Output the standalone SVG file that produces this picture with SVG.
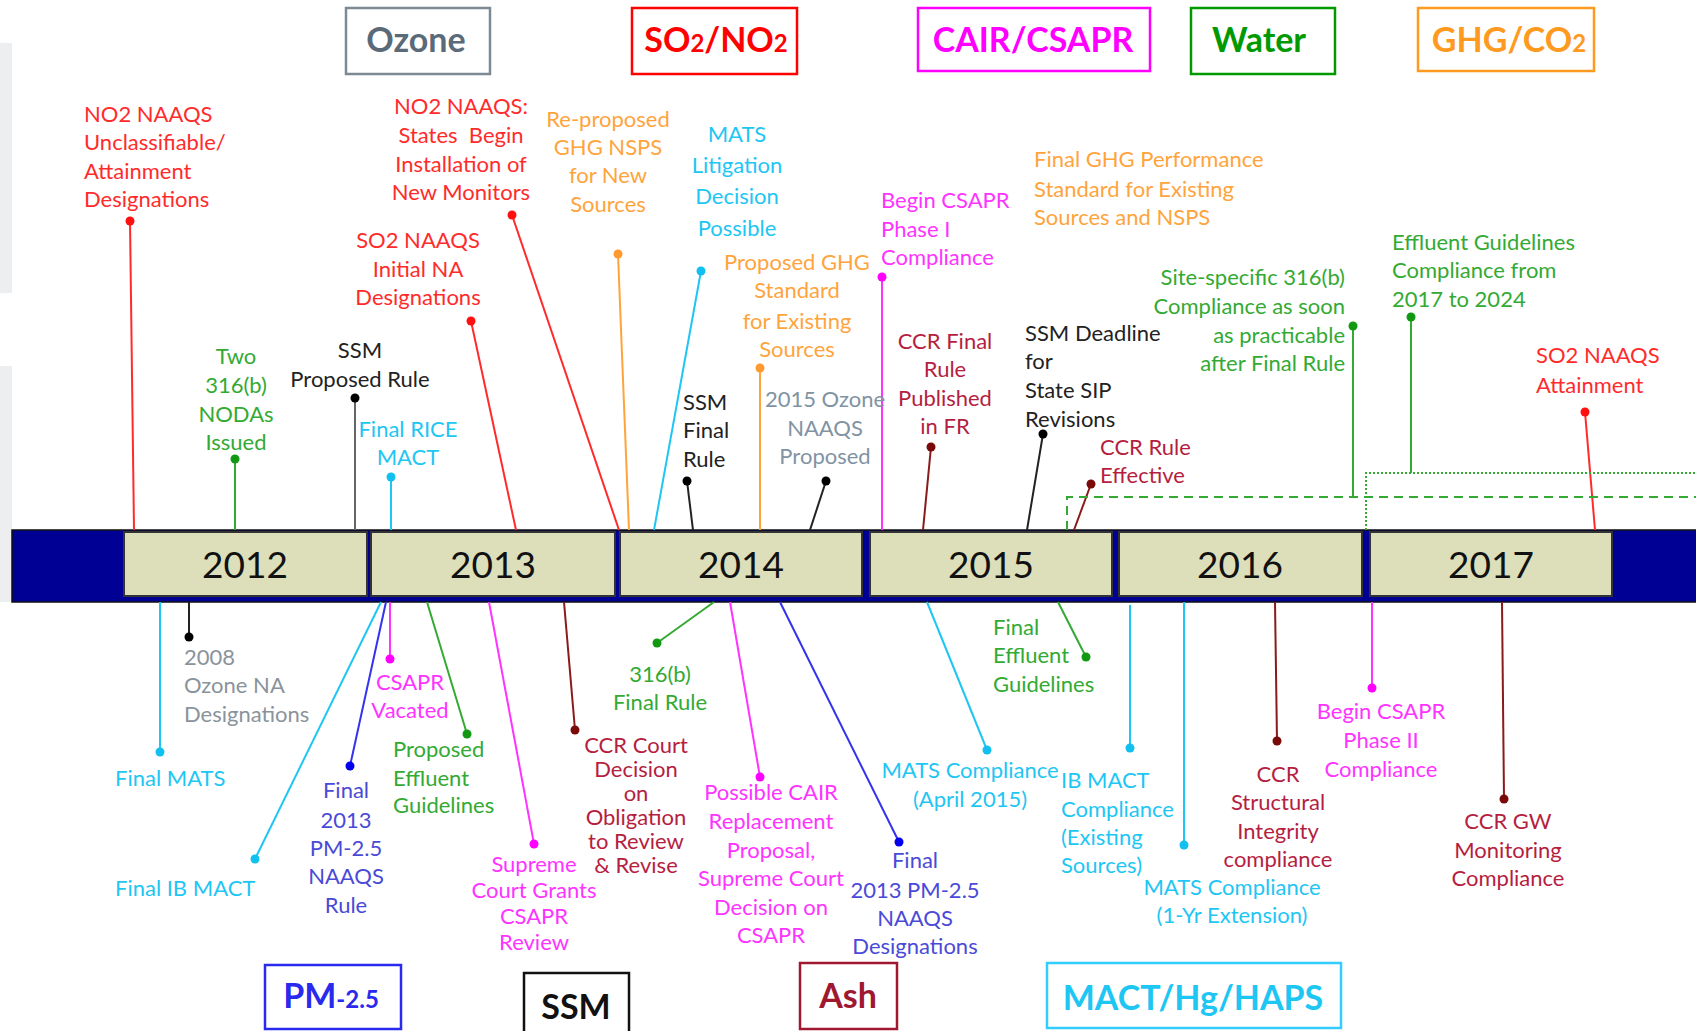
<svg xmlns="http://www.w3.org/2000/svg" width="1696" height="1031" viewBox="0 0 1696 1031">
<style>
.t{font-family:Lato,"Liberation Sans",sans-serif;font-size:22px}
.c{text-anchor:middle}
.r{text-anchor:end}
.red{fill:#ff2b2b}.org{fill:#ffa43c}.cyn{fill:#1ec6f4}.mag{fill:#ff33ff}.grn{fill:#33aa33}
.crm{fill:#b51e3f}.blu{fill:#4a4ad8}.blk{fill:#222}.gry{fill:#8a939b}.slt{fill:#8193a3}
.s{fill:none;stroke-width:2}
.sred{stroke:#ff2b2b}.sorg{stroke:#ffa43c}.scyn{stroke:#1ec6f4}.smag{stroke:#ff33ff}.sgrn{stroke:#33aa33}
.scrm{stroke:#8b1a1a}.sblu{stroke:#3333ee}.sblk{stroke:#222}.sgry{stroke:#666}
.dred{fill:#ff1010}.dorg{fill:#ff9a30}.dcyn{fill:#12c0f0}.dmag{fill:#ff00ff}.dgrn{fill:#119911}
.dcrm{fill:#7a0a0a}.dblu{fill:#0000ee}.dblk{fill:#000}
.yb{fill:#dcdfb9;stroke:#333;stroke-width:2}
.yt{font-family:Lato,"Liberation Sans",sans-serif;font-size:37px;fill:#111;text-anchor:middle}
.lg{fill:#fff;stroke-width:2.5}
.lt{font-family:Lato,"Liberation Sans",sans-serif;font-weight:bold;font-size:34px}
</style>

<rect x="0" y="43" width="12" height="250" fill="#eceef0"/>
<rect x="0" y="366" width="12" height="236" fill="#eceef0"/>

<g id="timeline">
<rect x="12" y="530" width="1684" height="72" fill="#000095" stroke="#111" stroke-width="1.5"/>
<rect class="yb" x="124" y="532" width="243" height="64"/><text class="yt" x="245" y="578">2012</text>
<rect class="yb" x="371" y="532" width="244" height="64"/><text class="yt" x="493" y="578">2013</text>
<rect class="yb" x="620" y="532" width="242" height="64"/><text class="yt" x="741" y="578">2014</text>
<rect class="yb" x="870" y="532" width="242" height="64"/><text class="yt" x="991" y="578">2015</text>
<rect class="yb" x="1119" y="532" width="243" height="64"/><text class="yt" x="1240" y="578">2016</text>
<rect class="yb" x="1370" y="532" width="242" height="64"/><text class="yt" x="1491" y="578">2017</text>
</g>

<g id="legend">
<g id="lg-ozone"><rect class="lg" x="346" y="8" width="144" height="66" stroke="#7d8a94"/><text class="lt" x="416" y="52" text-anchor="middle" fill="#5a6a78">Ozone</text></g>
<g id="lg-so2"><rect class="lg" x="632" y="8" width="165" height="66" stroke="#ff0000"/><text class="lt" x="716" y="52" text-anchor="middle" fill="#ff0000">SO<tspan font-size="24">2</tspan>/NO<tspan font-size="24">2</tspan></text></g>
<g id="lg-cair"><rect class="lg" x="918" y="8" width="232" height="63" stroke="#ff00ff"/><text class="lt" x="1033" y="52" text-anchor="middle" fill="#ff00ff">CAIR/CSAPR</text></g>
<g id="lg-water"><rect class="lg" x="1191" y="8" width="144" height="66" stroke="#009a00"/><text class="lt" x="1259" y="52" text-anchor="middle" fill="#009a00">Water</text></g>
<g id="lg-ghg"><rect class="lg" x="1418" y="8" width="176" height="63" stroke="#ff9a20"/><text class="lt" x="1509" y="52" text-anchor="middle" fill="#ff9a20">GHG/CO<tspan font-size="24">2</tspan></text></g>
<g id="lg-pm"><rect class="lg" x="265" y="965" width="136" height="64" stroke="#2a2aee"/><text class="lt" x="331" y="1008" text-anchor="middle" fill="#2a2aee">PM<tspan font-size="24">-2.5</tspan></text></g>
<g id="lg-ssm"><rect class="lg" x="524" y="973" width="105" height="70" stroke="#111"/><text class="lt" x="576" y="1019" text-anchor="middle" fill="#111">SSM</text></g>
<g id="lg-ash"><rect class="lg" x="800" y="963" width="97" height="66" stroke="#a01830"/><text class="lt" x="848" y="1008" text-anchor="middle" fill="#a01830">Ash</text></g>
<g id="lg-mact"><rect class="lg" x="1047" y="963" width="294" height="65" stroke="#33ccff"/><text class="lt" x="1193" y="1010" text-anchor="middle" fill="#1ec6f4">MACT/Hg/HAPS</text></g>
</g>

<g id="connectors">
<line class="s sred" x1="130" y1="221" x2="134" y2="530"/>
<line class="s sred" x1="512" y1="215" x2="619" y2="530"/>
<line class="s sred" x1="471" y1="321" x2="516" y2="530"/>
<line class="s sorg" x1="618" y1="254" x2="629" y2="530"/>
<line class="s scyn" x1="701" y1="271" x2="654" y2="530"/>
<line class="s sorg" x1="760" y1="368" x2="760" y2="530"/>
<line class="s smag" x1="882" y1="277" x2="882" y2="530"/>
<line class="s sgrn" x1="1411" y1="317" x2="1411" y2="473"/>
<line class="s sgrn" x1="1353" y1="326" x2="1353" y2="497"/>
<line class="s sred" x1="1585" y1="412" x2="1595" y2="530"/>
<line class="s sgrn" x1="235" y1="459" x2="235" y2="530"/>
<line class="s sgry" x1="355" y1="398" x2="355" y2="530"/>
<line class="s scyn" x1="391" y1="477" x2="391" y2="530"/>
<line class="s sblk" x1="687" y1="481" x2="693" y2="530"/>
<line class="s sblk" x1="826" y1="481" x2="810" y2="530"/>
<line class="s scrm" x1="931" y1="447" x2="923" y2="530"/>
<line class="s sblk" x1="1043" y1="434" x2="1027" y2="530"/>
<line class="s scrm" x1="1091" y1="484" x2="1074" y2="530"/>
<path class="s sgrn" stroke-width="2.5" stroke-dasharray="9 6" d="M1067,530 V497 H1696"/>
<path class="s sgrn" stroke-width="1.5" stroke-dasharray="2 2" d="M1366,530 V473 H1696"/>
<line class="s scyn" x1="160" y1="602" x2="160" y2="752"/>
<line class="s sblk" x1="189" y1="602" x2="189" y2="637"/>
<line class="s scyn" x1="381" y1="602" x2="255" y2="859"/>
<line class="s sblu" x1="386" y1="602" x2="350" y2="766"/>
<line class="s smag" x1="390" y1="602" x2="390" y2="659"/>
<line class="s sgrn" x1="427" y1="602" x2="467" y2="734"/>
<line class="s smag" x1="489" y1="602" x2="534" y2="844"/>
<line class="s scrm" x1="564" y1="602" x2="575" y2="730"/>
<line class="s sgrn" x1="714" y1="602" x2="657" y2="643"/>
<line class="s smag" x1="730" y1="602" x2="760" y2="777"/>
<line class="s sblu" x1="780" y1="602" x2="899" y2="842"/>
<line class="s scyn" x1="927" y1="602" x2="987" y2="750"/>
<line class="s sgrn" x1="1058" y1="602" x2="1086" y2="657"/>
<line class="s scyn" x1="1130" y1="605" x2="1130" y2="748"/>
<line class="s scyn" x1="1184" y1="602" x2="1184" y2="845"/>
<line class="s scrm" x1="1275" y1="602" x2="1277" y2="741"/>
<line class="s smag" x1="1372" y1="602" x2="1372" y2="688"/>
<line class="s scrm" x1="1502" y1="602" x2="1504" y2="799"/>
</g>

<g id="n-no2-unclass"><circle class="dred" cx="130" cy="221" r="4.5"/><text class="t red"><tspan x="84" y="122">NO2 NAAQS</tspan><tspan x="84" y="150">Unclassifiable/</tspan><tspan x="84" y="179">Attainment</tspan><tspan x="84" y="207">Designations</tspan></text></g>
<g id="n-no2-monitors"><circle class="dred" cx="512" cy="215" r="4.5"/><text class="t c red" xml:space="preserve"><tspan x="461" y="114">NO2 NAAQS:</tspan><tspan x="461" y="143">States  Begin</tspan><tspan x="461" y="172">Installation of</tspan><tspan x="461" y="200">New Monitors</tspan></text></g>
<g id="n-so2-initial"><circle class="dred" cx="471" cy="321" r="4.5"/><text class="t c red"><tspan x="418" y="248">SO2 NAAQS</tspan><tspan x="418" y="277">Initial NA</tspan><tspan x="418" y="305">Designations</tspan></text></g>
<g id="n-reproposed"><circle class="dorg" cx="618" cy="254" r="4.5"/><text class="t c org"><tspan x="608" y="127">Re-proposed</tspan><tspan x="608" y="155">GHG NSPS</tspan><tspan x="608" y="183">for New</tspan><tspan x="608" y="212">Sources</tspan></text></g>
<g id="n-mats-litigation"><circle class="dcyn" cx="701" cy="271" r="4.5"/><text class="t c cyn"><tspan x="737" y="142">MATS</tspan><tspan x="737" y="173">Litigation</tspan><tspan x="737" y="204">Decision</tspan><tspan x="737" y="236">Possible</tspan></text></g>
<g id="n-proposed-ghg"><circle class="dorg" cx="760" cy="368" r="4.5"/><text class="t c org"><tspan x="797" y="270">Proposed GHG</tspan><tspan x="797" y="298">Standard</tspan><tspan x="797" y="329">for Existing</tspan><tspan x="797" y="357">Sources</tspan></text></g>
<g id="n-begin-csapr1"><circle class="dmag" cx="882" cy="277" r="4.5"/><text class="t mag"><tspan x="881" y="208">Begin CSAPR</tspan><tspan x="881" y="237">Phase I</tspan><tspan x="881" y="265">Compliance</tspan></text></g>
<g id="n-final-ghg"><text class="t org"><tspan x="1034" y="167">Final GHG Performance</tspan><tspan x="1034" y="197">Standard for Existing</tspan><tspan x="1034" y="225">Sources and NSPS</tspan></text></g>
<g id="n-effluent-compliance"><circle class="dgrn" cx="1411" cy="317" r="4.5"/><text class="t grn"><tspan x="1392" y="250">Effluent Guidelines</tspan><tspan x="1392" y="278">Compliance from</tspan><tspan x="1392" y="307">2017 to 2024</tspan></text></g>
<g id="n-site-specific"><circle class="dgrn" cx="1353" cy="326" r="4.5"/><text class="t r grn"><tspan x="1345" y="285">Site-specific 316(b)</tspan><tspan x="1345" y="314">Compliance as soon</tspan><tspan x="1345" y="343">as practicable</tspan><tspan x="1345" y="371">after Final Rule</tspan></text></g>
<g id="n-so2-attainment"><circle class="dred" cx="1585" cy="412" r="4.5"/><text class="t red"><tspan x="1536" y="363">SO2 NAAQS</tspan><tspan x="1536" y="393">Attainment</tspan></text></g>
<g id="n-two-316b"><circle class="dgrn" cx="235" cy="459" r="4.5"/><text class="t c grn"><tspan x="236" y="364">Two</tspan><tspan x="236" y="393">316(b)</tspan><tspan x="236" y="422">NODAs</tspan><tspan x="236" y="450">Issued</tspan></text></g>
<g id="n-ssm-proposed"><circle class="dblk" cx="355" cy="398" r="4.5"/><text class="t c blk"><tspan x="360" y="358">SSM</tspan><tspan x="360" y="387">Proposed Rule</tspan></text></g>
<g id="n-final-rice"><circle class="dcyn" cx="391" cy="477" r="4.5"/><text class="t c cyn"><tspan x="408" y="437">Final RICE</tspan><tspan x="408" y="465">MACT</tspan></text></g>
<g id="n-ssm-final"><circle class="dblk" cx="687" cy="481" r="4.5"/><text class="t blk"><tspan x="683" y="410">SSM</tspan><tspan x="683" y="438">Final</tspan><tspan x="683" y="467">Rule</tspan></text></g>
<g id="n-2015-ozone"><circle class="dblk" cx="826" cy="481" r="4.5"/><text class="t c slt"><tspan x="825" y="407">2015 Ozone</tspan><tspan x="825" y="436">NAAQS</tspan><tspan x="825" y="464">Proposed</tspan></text></g>
<g id="n-ccr-final"><circle class="dcrm" cx="931" cy="447" r="4.5"/><text class="t c crm"><tspan x="945" y="349">CCR Final</tspan><tspan x="945" y="377">Rule</tspan><tspan x="945" y="406">Published</tspan><tspan x="945" y="434">in FR</tspan></text></g>
<g id="n-ssm-deadline"><circle class="dblk" cx="1043" cy="434" r="4.5"/><text class="t blk"><tspan x="1025" y="341">SSM Deadline</tspan><tspan x="1025" y="369">for</tspan><tspan x="1025" y="398">State SIP</tspan><tspan x="1025" y="427">Revisions</tspan></text></g>
<g id="n-ccr-effective"><circle class="dcrm" cx="1091" cy="484" r="4.5"/><text class="t crm"><tspan x="1100" y="455">CCR Rule</tspan><tspan x="1100" y="483">Effective</tspan></text></g>

<g id="n-final-mats"><circle class="dcyn" cx="160" cy="752" r="4.5"/><text class="t cyn" x="115" y="786">Final MATS</text></g>
<g id="n-2008-ozone"><circle class="dblk" cx="189" cy="637" r="4.5"/><text class="t gry"><tspan x="184" y="665">2008</tspan><tspan x="184" y="693">Ozone NA</tspan><tspan x="184" y="722">Designations</tspan></text></g>
<g id="n-final-ib-mact"><circle class="dcyn" cx="255" cy="859" r="4.5"/><text class="t cyn" x="115" y="896">Final IB MACT</text></g>
<g id="n-final-pm25"><circle class="dblu" cx="350" cy="766" r="4.5"/><text class="t c blu"><tspan x="346" y="798">Final</tspan><tspan x="346" y="828">2013</tspan><tspan x="346" y="856">PM-2.5</tspan><tspan x="346" y="884">NAAQS</tspan><tspan x="346" y="913">Rule</tspan></text></g>
<g id="n-csapr-vacated"><circle class="dmag" cx="390" cy="659" r="4.5"/><text class="t c mag"><tspan x="410" y="690">CSAPR</tspan><tspan x="410" y="718">Vacated</tspan></text></g>
<g id="n-proposed-effluent"><circle class="dgrn" cx="467" cy="734" r="4.5"/><text class="t grn"><tspan x="393" y="757">Proposed</tspan><tspan x="393" y="786">Effluent</tspan><tspan x="393" y="813">Guidelines</tspan></text></g>
<g id="n-supreme-court"><circle class="dmag" cx="534" cy="844" r="4.5"/><text class="t c mag"><tspan x="534" y="872">Supreme</tspan><tspan x="534" y="898">Court Grants</tspan><tspan x="534" y="924">CSAPR</tspan><tspan x="534" y="950">Review</tspan></text></g>
<g id="n-ccr-court"><circle class="dcrm" cx="575" cy="730" r="4.5"/><text class="t c crm" font-size="21"><tspan x="636" y="753">CCR Court</tspan><tspan x="636" y="777">Decision</tspan><tspan x="636" y="801">on</tspan><tspan x="636" y="825">Obligation</tspan><tspan x="636" y="849">to Review</tspan><tspan x="636" y="873">&amp; Revise</tspan></text></g>
<g id="n-316b-final"><circle class="dgrn" cx="657" cy="643" r="4.5"/><text class="t c grn"><tspan x="660" y="682">316(b)</tspan><tspan x="660" y="710">Final Rule</tspan></text></g>
<g id="n-possible-cair"><circle class="dmag" cx="760" cy="777" r="4.5"/><text class="t c mag"><tspan x="771" y="800">Possible CAIR</tspan><tspan x="771" y="829">Replacement</tspan><tspan x="771" y="858">Proposal,</tspan><tspan x="771" y="886">Supreme Court</tspan><tspan x="771" y="915">Decision on</tspan><tspan x="771" y="943">CSAPR</tspan></text></g>
<g id="n-final-pm-desig"><circle class="dblu" cx="899" cy="842" r="4.5"/><text class="t c blu"><tspan x="915" y="868">Final</tspan><tspan x="915" y="898">2013 PM-2.5</tspan><tspan x="915" y="926">NAAQS</tspan><tspan x="915" y="954">Designations</tspan></text></g>
<g id="n-mats-april"><circle class="dcyn" cx="987" cy="750" r="4.5"/><text class="t c cyn"><tspan x="970" y="778">MATS Compliance</tspan><tspan x="970" y="807">(April 2015)</tspan></text></g>
<g id="n-final-effluent"><circle class="dgrn" cx="1086" cy="657" r="4.5"/><text class="t grn"><tspan x="993" y="635">Final</tspan><tspan x="993" y="663">Effluent</tspan><tspan x="993" y="692">Guidelines</tspan></text></g>
<g id="n-ib-mact-compliance"><circle class="dcyn" cx="1130" cy="748" r="4.5"/><text class="t cyn"><tspan x="1061" y="788">IB MACT</tspan><tspan x="1061" y="817">Compliance</tspan><tspan x="1061" y="845">(Existing</tspan><tspan x="1061" y="873">Sources)</tspan></text></g>
<g id="n-mats-1yr"><circle class="dcyn" cx="1184" cy="845" r="4.5"/><text class="t c cyn"><tspan x="1232" y="895">MATS Compliance</tspan><tspan x="1232" y="923">(1-Yr Extension)</tspan></text></g>
<g id="n-ccr-structural"><circle class="dcrm" cx="1277" cy="741" r="4.5"/><text class="t c crm"><tspan x="1278" y="782">CCR</tspan><tspan x="1278" y="810">Structural</tspan><tspan x="1278" y="839">Integrity</tspan><tspan x="1278" y="867">compliance</tspan></text></g>
<g id="n-begin-csapr2"><circle class="dmag" cx="1372" cy="688" r="4.5"/><text class="t c mag"><tspan x="1381" y="719">Begin CSAPR</tspan><tspan x="1381" y="748">Phase II</tspan><tspan x="1381" y="777">Compliance</tspan></text></g>
<g id="n-ccr-gw"><circle class="dcrm" cx="1504" cy="799" r="4.5"/><text class="t c crm"><tspan x="1508" y="829">CCR GW</tspan><tspan x="1508" y="858">Monitoring</tspan><tspan x="1508" y="886">Compliance</tspan></text></g>
</svg>
